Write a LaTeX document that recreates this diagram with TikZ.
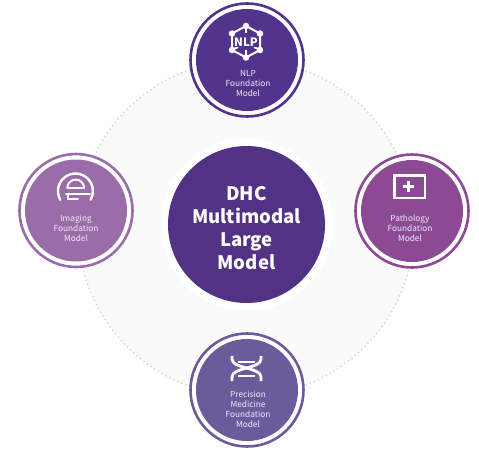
\documentclass[tikz,border=0pt]{standalone}
\usepackage{fontspec}
\setmainfont{Noto Sans CJK KR}
\usepackage{xcolor}
\usetikzlibrary{positioning}
\definecolor{corepurple}{RGB}{82,50,133}
\definecolor{nlppurple}{RGB}{83,52,140}
\definecolor{imgorchid}{RGB}{154,108,168}
\definecolor{pathplum}{RGB}{139,74,147}
\definecolor{precviolet}{RGB}{107,90,156}
\definecolor{haze}{RGB}{250,250,250}
\definecolor{dotgray}{RGB}{216,216,216}
\definecolor{labelwhite}{RGB}{240,236,248}
\tikzset{
  backdisc/.style={circle,fill=haze,draw=dotgray,line width=2pt,line cap=round,
    dash pattern=on 0pt off 4.4pt,minimum size=336pt,inner sep=0pt},
  halo/.style={circle,fill=white,minimum size=172pt,inner sep=0pt},
  coredisc/.style={circle,fill=corepurple,minimum size=157pt,inner sep=0pt},
  corelabel/.style={align=center,text=white,inner sep=0pt,
    font=\fontsize{18.6}{23}\selectfont\bfseries},
  ringnode/.style={circle,fill=white,line width=2.6pt,minimum size=113pt,inner sep=0pt},
  discnode/.style={circle,minimum size=102pt,inner sep=0pt},
  modellabel/.style={align=center,text=labelwhite,inner sep=0pt,
    font=\fontsize{8.3}{10}\selectfont},
  iconline/.style={white,line width=2pt,line cap=round},
  icondot/.style={circle,fill=white,inner sep=0pt,minimum size=6.5pt}
}
\begin{document}
\begin{tikzpicture}[x=1pt,y=-1pt]
  \useasboundingbox (0,0) rectangle (479,458);
  \node[backdisc] (back) at (246,228) {};
  \node[halo] (corehalo) at (246.5,224.5) {};
  \node[coredisc] (core) at (246.5,224.5) {};
  \node[corelabel] (core label) at (246.5,228) {DHC\\Multimodal\\Large\\Model};
  \foreach \name/\cx/\cy/\col in {nlp/247/60/nlppurple,img/76/210.5/imgorchid,
      path/412/211/pathplum,prec/247/390/precviolet} {
    \node[ringnode,draw=\col] (\name ring) at (\cx,\cy) {};
    \node[discnode,fill=\col] (\name) at (\cx,\cy) {};
  }
  \node[modellabel] (nlp label) at (248,84) {NLP\\Foundation\\Model};
  \node[modellabel] (img label) at (76,228.5) {Imaging\\Foundation\\Model};
  \node[modellabel] (path label) at (410,228) {Pathology\\Foundation\\Model};
  \node[modellabel] (prec label) at (248,409.7) {Precision\\Medicine\\Foundation\\Model};
  % nlp icon
  \draw[iconline,line cap=butt] (246,26)--(232,33.5)--(232,50)--(246,57.5)--(260,50)--(260,33.5)--cycle;
  \draw[iconline,line cap=butt] (246,26)--(246,33) (246,57.5)--(246,50);
  \draw[iconline,line cap=butt] (232,50)--(238,47) (260,50)--(254,47);
  \node[fill=nlppurple,inner sep=0.5pt,text=white,font=\fontsize{11.5}{12}\selectfont\bfseries] (nlp mark) at (246,42) {NLP};
  \foreach \px/\py in {246/26,232/33.5,260/33.5,232/50,260/50,246/57.5} {
    \node[icondot] at (\px,\py) {};
  }
  % imaging icon
  \draw[iconline,line width=2.4pt] (60.3,199.8) arc[start angle=-210,end angle=30,radius=17.5];
  \draw[iconline] (67.3,188) arc[start angle=-180,end angle=0,radius=8.4];
  \draw[iconline] (67.3,188)--(84,188);
  \draw[iconline] (66,194.3)--(90,194.3);
  \draw[iconline] (68,194.3)--(68,198.5)--(78,198.5);
  % pathology icon
  \draw[white,line width=2.2pt] (394.5,175.5) rectangle (425,198);
  \draw[white,line width=3.5pt] (394.5,174.5)--(394.5,199);
  \draw[white,line width=2.6pt] (403,186.5)--(413.5,186.5);
  \draw[white,line width=2.6pt] (408.2,181.2)--(408.2,191.8);
  % dna icon
  \draw[iconline,line width=2.8pt,line cap=butt] (232,356)--(232,359) .. controls (232,369) and (261,367) .. (261,377)--(261,381);
  \draw[iconline,line width=2.8pt,line cap=butt] (261,356)--(261,359) .. controls (261,369) and (232,367) .. (232,377)--(232,381);
  \draw[iconline,line width=2pt,line cap=butt] (238,361.5)--(255,361.5);
  \draw[iconline,line width=2pt,line cap=butt] (238,375.5)--(255,375.5);
\end{tikzpicture}
\end{document}
